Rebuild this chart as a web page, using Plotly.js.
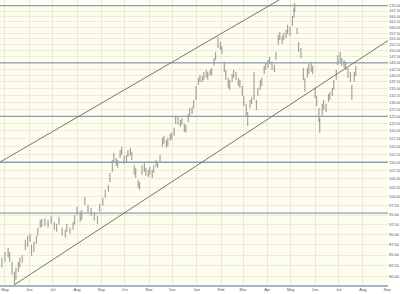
<!DOCTYPE html>
<html>
<head>
<meta charset="utf-8">
<script src="https://cdn.plot.ly/plotly-3.0.1.min.js"></script>
<style>html,body{margin:0;padding:0;background:#fff;}#chart{width:400px;height:294px;}</style>
</head>
<body>
<div id="chart"></div>
<script>
var dates = ["2010-04-27","2010-05-01","2010-05-05","2010-05-07","2010-05-10","2010-05-13","2010-05-15","2010-05-18","2010-05-20","2010-05-23",
"2010-05-27","2010-05-30","2010-06-02","2010-06-04","2010-06-07","2010-06-10","2010-06-12","2010-06-15","2010-06-17","2010-06-21",
"2010-06-25","2010-06-29","2010-07-03","2010-07-06","2010-07-09","2010-07-13","2010-07-17","2010-07-19","2010-07-23","2010-07-27",
"2010-07-29","2010-08-01","2010-08-05","2010-08-07","2010-08-11","2010-08-15","2010-08-19","2010-08-23","2010-08-27","2010-08-30",
"2010-09-03","2010-09-06","2010-09-10","2010-09-12","2010-09-15","2010-09-17","2010-09-20","2010-09-22","2010-09-25","2010-09-27",
"2010-09-30","2010-10-03","2010-10-05","2010-10-08","2010-10-10","2010-10-13","2010-10-15","2010-10-18","2010-10-20","2010-10-23",
"2010-10-26","2010-10-28","2010-10-31","2010-11-02","2010-11-05","2010-11-07","2010-11-10","2010-11-12","2010-11-15","2010-11-18",
"2010-11-20","2010-11-23","2010-11-25","2010-11-28","2010-11-30","2010-12-03","2010-12-05","2010-12-08","2010-12-11","2010-12-13",
"2010-12-16","2010-12-18","2010-12-21","2010-12-23","2010-12-26","2010-12-28","2010-12-31","2011-01-03","2011-01-05","2011-01-08",
"2011-01-10","2011-01-13","2011-01-15","2011-01-18","2011-01-20","2011-01-23","2011-01-25","2011-01-28","2011-01-31","2011-02-02",
"2011-02-05","2011-02-07","2011-02-10","2011-02-12","2011-02-15","2011-02-17","2011-02-20","2011-02-23","2011-02-25","2011-02-28",
"2011-03-02","2011-03-05","2011-03-07","2011-03-10","2011-03-12","2011-03-15","2011-03-18","2011-03-20","2011-03-23","2011-03-25",
"2011-03-28","2011-03-30","2011-04-02","2011-04-04","2011-04-07","2011-04-10","2011-04-12","2011-04-15","2011-04-17","2011-04-20",
"2011-04-22","2011-04-25","2011-04-27","2011-04-30","2011-05-03","2011-05-05","2011-05-06","2011-05-09","2011-05-11","2011-05-14",
"2011-05-17","2011-05-19","2011-05-22","2011-05-24","2011-05-27","2011-05-29","2011-06-01","2011-06-03","2011-06-06","2011-06-07",
"2011-06-10","2011-06-12","2011-06-15","2011-06-18","2011-06-20","2011-06-23","2011-06-25","2011-06-28","2011-06-30","2011-07-03",
"2011-07-05","2011-07-08","2011-07-10","2011-07-13","2011-07-16","2011-07-18","2011-07-21","2011-07-23"];

var highs = [84.4,85.7,86.7,85.7,83.4,81.1,82.1,83.4,84.4,85.0,
88.7,89.7,90.2,87.5,88.2,89.7,91.7,93.7,94.0,94.2,
93.7,94.8,93.2,92.7,94.5,91.7,91.2,92.7,91.7,93.2,
95.0,97.2,95.9,96.4,99.9,97.7,96.9,95.6,94.8,98.0,
99.7,101.9,103.3,106.8,110.7,112.9,111.3,110.7,113.8,114.8,
112.0,112.2,113.8,114.5,113.2,109.2,108.3,104.7,104.1,109.2,
109.8,108.3,107.7,108.6,107.7,109.2,110.7,110.1,112.2,117.8,
118.4,117.1,117.8,119.1,119.4,121.1,125.1,124.8,123.7,124.4,
122.4,122.1,125.8,127.9,128.3,130.8,136.0,139.1,140.2,139.9,
141.4,142.2,141.4,142.2,143.0,147.0,149.5,155.8,153.7,152.0,
145.4,142.2,139.1,138.3,140.6,142.2,141.4,139.1,138.3,136.0,
132.3,129.4,126.5,130.8,131.9,141.4,130.8,135.3,138.3,139.1,
143.8,145.0,146.2,147.4,145.4,144.2,149.5,156.7,158.0,156.3,
157.6,158.9,161.2,160.3,165.2,168.9,171.2,159.8,153.7,151.1,
143.0,139.1,143.0,144.6,145.4,143.8,135.3,132.3,127.9,124.4,
129.4,130.8,129.4,133.0,133.8,135.3,138.3,142.2,148.2,149.5,
147.0,146.2,145.4,143.0,141.4,136.4,141.4,143.8];

var lows = [82.1,83.4,84.4,83.4,80.5,78.4,79.3,81.1,82.1,83.2,
86.2,86.9,88.2,84.8,85.7,87.7,89.7,91.7,91.9,92.2,
91.7,92.7,91.2,90.7,92.5,89.7,89.2,90.7,90.2,91.2,
92.5,95.0,93.2,93.7,97.7,95.6,94.8,93.5,92.7,95.9,
97.5,99.7,101.3,104.1,107.1,110.1,108.9,108.3,111.3,112.2,
109.5,110.1,111.6,112.0,110.7,106.2,105.3,102.5,101.9,106.2,
107.1,105.9,105.6,106.2,105.3,106.8,108.6,108.3,109.8,114.8,
115.8,114.5,115.1,116.8,117.1,118.4,122.4,122.1,121.4,122.1,
119.7,119.4,123.0,125.1,125.8,127.9,130.8,136.4,137.5,137.5,
138.3,139.1,138.3,139.9,140.2,143.8,146.2,151.1,150.3,148.7,
141.4,138.3,135.3,134.5,137.5,139.1,138.3,136.0,135.3,132.3,
128.6,125.1,121.7,127.9,129.4,130.8,127.2,132.3,134.5,136.0,
140.6,142.2,143.0,144.6,142.2,141.4,146.2,152.4,154.5,152.8,
154.5,155.4,157.1,156.3,160.7,164.3,167.1,157.1,149.5,147.0,
138.3,133.8,139.1,140.6,141.4,140.6,131.5,128.6,123.0,119.4,
125.1,127.2,126.5,130.1,130.8,132.3,134.5,138.3,144.2,145.4,
143.8,143.0,142.2,139.1,137.5,130.8,137.5,139.9];

var opens = [83.0,84.0,85.2,85.0,82.8,80.5,79.8,81.8,82.6,83.8,
86.8,88.8,89.0,87.0,86.2,88.2,90.2,92.2,93.4,92.8,
93.2,93.0,92.8,92.2,93.0,91.2,89.8,91.5,91.0,91.8,
93.0,96.0,95.2,94.2,98.2,97.0,95.5,95.0,93.5,96.5,
98.0,100.5,102.0,104.8,108.0,111.0,110.8,109.0,112.0,113.8,
111.5,110.8,112.2,113.5,112.5,107.0,107.5,103.5,102.5,107.0,
108.5,107.0,106.2,107.0,107.2,107.5,109.5,109.8,110.5,116.0,
117.0,116.5,115.8,117.5,118.8,119.5,123.5,124.0,122.0,123.8,
121.0,120.5,124.0,126.0,127.5,128.5,132.0,137.5,139.0,138.5,
139.5,141.0,140.5,140.8,141.5,145.0,147.5,152.0,153.0,151.0,
143.0,140.5,137.0,135.5,139.0,140.0,140.5,137.0,136.5,134.0,
130.0,127.5,123.0,129.0,130.5,132.0,129.5,133.0,135.5,137.5,
141.5,143.5,144.5,145.5,144.5,142.5,147.5,154.0,156.0,155.0,
156.0,156.5,158.0,159.0,162.0,165.5,168.0,158.5,152.5,150.0,
140.5,135.5,140.0,142.0,142.5,142.5,133.0,130.5,126.0,121.0,
127.0,128.0,128.5,131.0,132.0,133.5,136.0,140.0,145.5,148.0,
145.0,144.0,144.5,141.0,139.0,133.0,139.5,141.5];

var closes = [83.8,85.0,85.5,84.0,81.2,79.0,81.5,82.8,84.0,84.5,
88.0,89.2,88.5,85.5,87.8,89.5,91.2,93.0,92.5,93.5,
92.5,94.0,91.8,91.2,94.0,90.2,90.5,92.0,90.8,92.8,
94.5,96.5,94.0,96.0,99.0,96.2,95.2,94.0,94.2,97.5,
99.2,101.5,103.0,106.2,110.2,112.0,109.5,110.2,113.2,113.0,
110.5,111.5,113.2,113.0,111.2,106.8,106.0,103.0,103.5,108.5,
108.0,106.5,107.0,108.0,106.0,108.5,110.2,109.0,111.5,117.2,
116.5,116.0,117.2,118.5,118.0,120.5,124.5,122.8,123.0,122.8,
120.2,121.5,125.0,127.2,126.5,130.0,135.0,138.5,138.0,139.5,
140.8,140.0,139.5,141.8,142.5,146.5,149.0,155.0,151.0,149.5,
142.0,139.0,136.0,137.5,140.0,141.5,139.0,136.5,135.8,133.0,
129.0,126.0,126.0,130.0,130.0,131.5,130.5,134.5,137.5,138.5,
143.0,144.5,145.5,144.8,143.0,143.5,149.0,155.5,155.0,156.0,
157.0,158.5,160.5,157.0,164.5,168.0,167.8,157.5,150.0,147.5,
139.0,137.5,141.5,141.0,145.0,141.0,132.0,129.0,124.0,123.5,
128.5,129.5,127.5,132.5,133.5,134.5,137.5,141.5,147.5,146.0,
144.5,145.5,143.0,139.5,138.0,135.5,140.5,143.0];

// channel trend lines (endpoints)
var upperLineX = ["2010-04-12", "2011-05-12"];
var upperLineY = [108.3, 178.5];
var lowerLineX = ["2010-05-12 12:00", "2011-09-18"];
var lowerLineY = [78.2, 157.8];

// horizontal support / resistance levels
var levels = [170, 145, 125, 110, 95.5];

var yTickVals = [80,82.5,85,87.5,90,92.5,95,97.5,100,102.5,105,107.5,110,112.5,115,117.5,120,122.5,125,127.5,130,132.5,135,137.5,140,142.5,145,147.5,150,152.5,155,157.5,160,162.5,165,167.5,170];
var yTickText = ["80.00","82.50","85.00","87.50","90.00","92.50","95.00","97.50","100.00","102.50","105.00","107.50","110.00","112.50","115.00","117.50","120.00","122.50","125.00","127.50","130.00","132.50","135.00","137.50","140.00","142.50","145.00","147.50","150.00","152.50","155.00","157.50","160.00","162.50","165.00","167.50","170.00"];

var xRange = ["2010-04-24 15:00", "2011-09-02 03:00"];
var levelSpan = ["2010-03-01", "2011-10-30"];

var traces = [];
levels.forEach(function (lv) {
  traces.push({
    type: "scatter", mode: "lines", x: levelSpan, y: [lv, lv],
    line: {color: "#8C9BBA", width: 1.3}, hoverinfo: "skip", showlegend: false
  });
});
traces.push({
  type: "scatter", mode: "lines", x: upperLineX, y: upperLineY,
  line: {color: "#66665e", width: 0.9}, hoverinfo: "skip", showlegend: false
});
traces.push({
  type: "scatter", mode: "lines", x: lowerLineX, y: lowerLineY,
  line: {color: "#66665e", width: 0.9}, hoverinfo: "skip", showlegend: false
});
traces.push({
  type: "ohlc", x: dates, open: opens, high: highs, low: lows, close: closes,
  increasing: {line: {color: "#7a7a78", width: 0.8}},
  decreasing: {line: {color: "#7a7a78", width: 0.8}},
  tickwidth: 0.2, hoverinfo: "skip", showlegend: false
});

var layout = {
  width: 400, height: 294,
  margin: {l: 0, r: 12, t: 0, b: 9, pad: 0},
  paper_bgcolor: "#FFFFFF",
  plot_bgcolor: "#FEFEEE",
  showlegend: false,
  font: {family: "Liberation Sans, Arial, sans-serif", size: 4, color: "#555"},
  xaxis: {
    type: "date", range: xRange,
    tick0: "2010-05-01", dtick: "M1", tickformat: "%b",
    showgrid: true, gridcolor: "#ECE8D4", gridwidth: 1,
    ticks: "", ticklen: 0,
    showline: true, linecolor: "#A9B4C8", linewidth: 1.5,
    zeroline: false, fixedrange: true,
    rangeslider: {visible: false},
    tickfont: {size: 4, color: "#555"}
  },
  yaxis: {
    type: "log", side: "right",
    range: [Math.log10(78.2), Math.log10(172.7)],
    tickmode: "array", tickvals: yTickVals, ticktext: yTickText,
    showgrid: true, gridcolor: "#EFEBD8", gridwidth: 1,
    ticks: "", ticklen: 0, showline: false, zeroline: false,
    fixedrange: true,
    tickfont: {size: 4, color: "#555"}
  }
};

Plotly.newPlot("chart", traces, layout, {staticPlot: true, displayModeBar: false});
</script>
</body>
</html>
